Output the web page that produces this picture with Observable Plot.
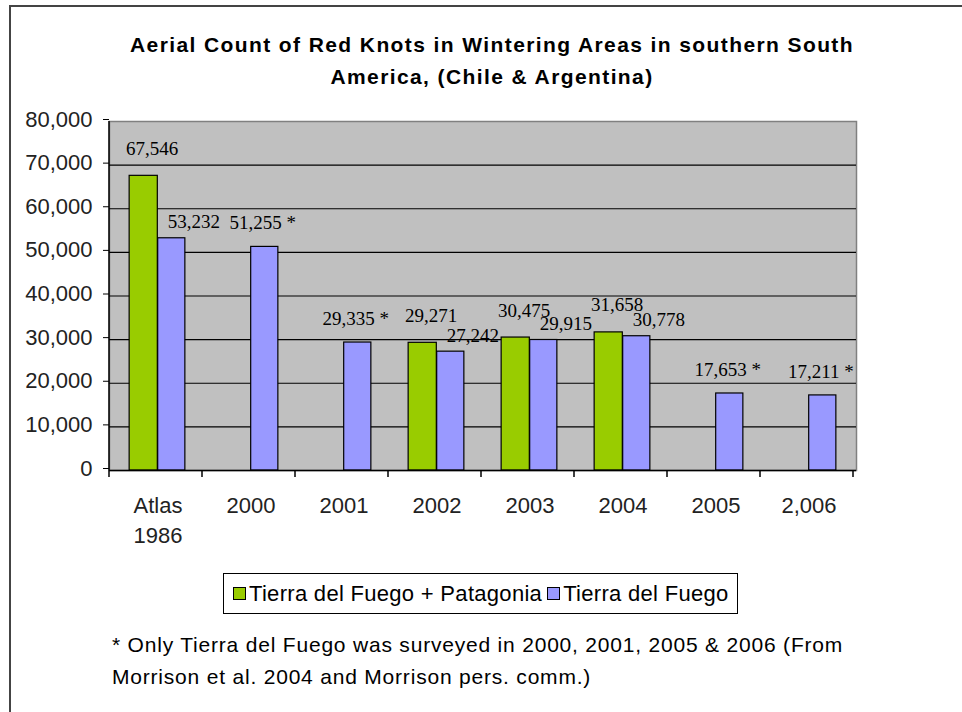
<!DOCTYPE html>
<html>
<head>
<meta charset="utf-8">
<script src="https://cdn.jsdelivr.net/npm/d3@7"></script>
<script src="https://cdn.jsdelivr.net/npm/@observablehq/plot@0.6"></script>
<style>
  body { margin: 0; background: #fff; font-family: "Liberation Sans", Arial, sans-serif; }
  #wrap { position: relative; width: 962px; height: 712px; overflow: hidden; background: #fff; }
  #chart { position: absolute; left: 0; top: 0; }
  #border { position: absolute; left: 9px; top: 5px; width: 980px; height: 740px;
            border-left: 2px solid #444; border-top: 2px solid #444; pointer-events: none; }
  #title { position: absolute; left: 0; width: 984px; top: 29px; text-align: center;
           font-weight: bold; font-size: 21px; line-height: 32px; letter-spacing: 1.4px; color: #000; }
  #legend { position: absolute; left: 223px; top: 573px; width: 515px; height: 41px;
            border: 1px solid #000; box-sizing: border-box; font-size: 22px; color: #000;
            display: flex; align-items: center; padding-left: 9px; white-space: nowrap; letter-spacing: 0.3px; }
  #legend .sw { display: inline-block; width: 11px; height: 11px; border: 1px solid #000; margin-right: 3px; }
  #legend .item { display: inline-flex; align-items: center; margin-right: 5px; }
  #note { position: absolute; left: 112px; top: 629px; font-size: 21px; line-height: 32px; color: #000;
          letter-spacing: 0.8px; white-space: nowrap; }
</style>
</head>
<body>
<div id="wrap">
  <div id="chart"></div>
  <div id="title"></div>
  <div id="legend"></div>
  <div id="note"></div>
  <div id="border"></div>
</div>
<script>
// ---- data ----
const titleLines = ["Aerial Count of Red Knots in Wintering Areas in southern South", "America, (Chile & Argentina)"];
const categories = ["Atlas\n1986", "2000", "2001", "2002", "2003", "2004", "2005", "2,006"];
const seriesNames = ["Tierra del Fuego + Patagonia", "Tierra del Fuego"];
const seriesColors = ["#99cc00", "#9999ff"];
const patagoniaValues = [67546, null, null, 29271, 30475, 31658, null, null];
const fuegoValues = [53232, 51255, 29335, 27242, 29915, 30778, 17653, 17211];
const fuegoOnlySurvey = [false, true, true, false, false, false, true, true];
const yTicks = [0, 10000, 20000, 30000, 40000, 50000, 60000, 70000, 80000];
const noteLines = ["* Only Tierra del Fuego was surveyed in 2000, 2001, 2005 & 2006 (From",
                   "Morrison et al. 2004 and Morrison pers. comm.)"];

// ---- tables ----
const green = categories.map((c, i) => ({cat: c, value: patagoniaValues[i]})).filter(d => d.value != null);
const blue = categories.map((c, i) => ({cat: c, value: fuegoValues[i], star: fuegoOnlySurvey[i]}));
const fmt = d3.format(",");

// ---- layout ----
const W = 962, H = 560, mL = 109, mR = 106, mT = 121, mB = 90;
const step = (W - mL - mR) / categories.length;
const bw = step * 0.295;
const labelFont = "'Liberation Serif', 'Times New Roman', serif";

const plot = Plot.plot({
  width: W, height: H,
  marginLeft: mL, marginRight: mR, marginTop: mT, marginBottom: mB,
  style: {background: "transparent", color: "#000", fontFamily: "'Liberation Sans', Arial, sans-serif"},
  x: {domain: categories, padding: 0, axis: null},
  y: {domain: [0, 80000], axis: null},
  marks: [
    Plot.frame({fill: "#c0c0c0", stroke: "#808080", strokeWidth: 1.5}),
    Plot.ruleY(yTicks.filter(v => v > 0 && v < 80000), {stroke: "#000", strokeWidth: 1.2}),
    Plot.barY(green, {x: "cat", y: "value", fill: seriesColors[0], stroke: "#000", strokeWidth: 1.2,
                      insetLeft: step / 2 - bw - 1, insetRight: step / 2}),
    Plot.barY(blue, {x: "cat", y: "value", fill: seriesColors[1], stroke: "#000", strokeWidth: 1.2,
                     insetLeft: step / 2, insetRight: step / 2 - bw}),
    Plot.ruleY([0], {stroke: "#000", strokeWidth: 1.5}),
    Plot.text(green, {x: "cat", y: "value", text: d => fmt(d.value), dx: -bw / 2 + 8, dy: -27,
                      fontFamily: labelFont, fontSize: 19, fill: "#000"}),
    Plot.text(blue.filter(d => !d.star), {x: "cat", y: "value", text: d => fmt(d.value), dx: bw / 2 + 22, dy: -16,
                      fontFamily: labelFont, fontSize: 19, fill: "#000"}),
    Plot.text(blue.filter(d => d.star), {x: "cat", y: "value", text: d => fmt(d.value) + " *", dx: bw / 2 - 2, dy: -24,
                      fontFamily: labelFont, fontSize: 19, fill: "#000"}),
    Plot.axisY({ticks: yTicks, tickFormat: fmt, tickSize: 6, tickPadding: 11, fontSize: 22, dy: -2,
                fill: "#222", stroke: "#000", label: null}),
    Plot.axisX({tickSize: 0, tickPadding: 21, fontSize: 22, lineHeight: 30 / 22, fill: "#222", label: null})
  ]
});
document.getElementById("chart").appendChild(plot);

// left axis line and category boundary ticks, from the plot's own scales
const sx = plot.scale("x"), sy = plot.scale("y");
const svg = d3.select(plot);
const x0 = sx.range[0], y0 = sy.apply(0), yTop = sy.apply(80000);
const g = svg.append("g").attr("stroke", "#000").attr("stroke-width", 1.5);
g.append("line").attr("x1", x0).attr("x2", x0).attr("y1", yTop).attr("y2", y0);
for (let i = 0; i <= categories.length; i++) {
  const xx = x0 + i * sx.step;
  g.append("line").attr("x1", xx).attr("x2", xx).attr("y1", y0).attr("y2", y0 + 7);
}

// ---- title, legend, note ----
document.getElementById("title").innerHTML = titleLines.join("<br>");
const legend = document.getElementById("legend");
seriesNames.forEach((n, i) => {
  const item = document.createElement("span");
  item.className = "item";
  const sw = document.createElement("span");
  sw.className = "sw";
  sw.style.background = seriesColors[i];
  item.appendChild(sw);
  item.appendChild(document.createTextNode(n));
  legend.appendChild(item);
});
document.getElementById("note").innerHTML = noteLines.join("<br>");
</script>
</body>
</html>
